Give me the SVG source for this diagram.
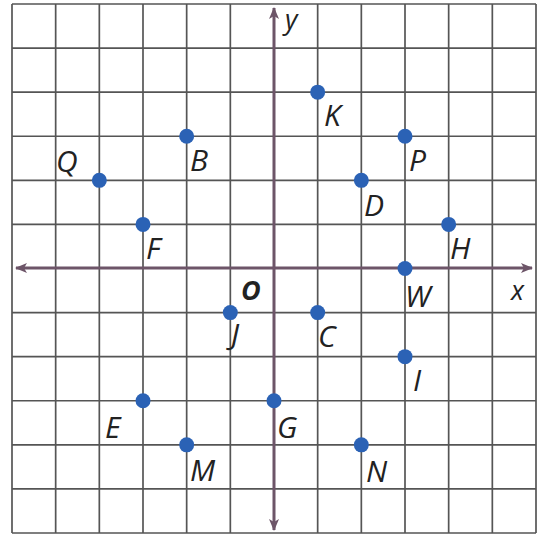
<svg xmlns="http://www.w3.org/2000/svg" width="543" height="536" viewBox="0 0 543 536">
<style>
.grid line{stroke:#555;stroke-width:1.7}
.axis{stroke:#6d5568;stroke-width:3}
.pt{fill:#2b62b5}
.lbl{font-family:"Open Sans","Liberation Sans",sans-serif;font-style:italic;font-size:30px;fill:#222}
.ax{font-family:"Open Sans","Liberation Sans",sans-serif;font-style:italic;font-size:27px;fill:#222}
</style>
<defs>
<marker id="arr" viewBox="0 0 12 10" refX="11" refY="5" markerWidth="12" markerHeight="10" markerUnits="userSpaceOnUse" orient="auto-start-reverse">
<path d="M0,0 L12,5 L0,10 L3,5 Z" fill="#6d5568"/>
</marker>
</defs>
<rect width="543" height="536" fill="#fff"/>
<g id="grid" class="grid">
<line x1="12" y1="4" x2="12" y2="533"/>
<line x1="55.67" y1="4" x2="55.67" y2="533"/>
<line x1="99.33" y1="4" x2="99.33" y2="533"/>
<line x1="143" y1="4" x2="143" y2="533"/>
<line x1="186.67" y1="4" x2="186.67" y2="533"/>
<line x1="230.33" y1="4" x2="230.33" y2="533"/>
<line x1="317.67" y1="4" x2="317.67" y2="533"/>
<line x1="361.33" y1="4" x2="361.33" y2="533"/>
<line x1="405" y1="4" x2="405" y2="533"/>
<line x1="448.67" y1="4" x2="448.67" y2="533"/>
<line x1="492.33" y1="4" x2="492.33" y2="533"/>
<line x1="536" y1="4" x2="536" y2="533"/>
<line x1="12" y1="4" x2="536" y2="4"/>
<line x1="12" y1="48.08" x2="536" y2="48.08"/>
<line x1="12" y1="92.17" x2="536" y2="92.17"/>
<line x1="12" y1="136.25" x2="536" y2="136.25"/>
<line x1="12" y1="180.33" x2="536" y2="180.33"/>
<line x1="12" y1="224.42" x2="536" y2="224.42"/>
<line x1="12" y1="312.58" x2="536" y2="312.58"/>
<line x1="12" y1="356.67" x2="536" y2="356.67"/>
<line x1="12" y1="400.75" x2="536" y2="400.75"/>
<line x1="12" y1="444.83" x2="536" y2="444.83"/>
<line x1="12" y1="488.92" x2="536" y2="488.92"/>
<line x1="12" y1="533" x2="536" y2="533"/>
</g>
<g id="axes">
<line class="axis" x1="16" y1="268" x2="532" y2="268" marker-start="url(#arr)" marker-end="url(#arr)"/>
<line class="axis" x1="274" y1="8" x2="274" y2="530" marker-start="url(#arr)" marker-end="url(#arr)"/>
<text class="ax" x="511" y="300">x</text>
<text class="ax" x="285" y="29">y</text>
<text x="241" y="300" font-family="'Open Sans','Liberation Sans',sans-serif" font-weight="bold" font-style="italic" font-size="27" fill="#222">O</text>
</g>
<g id="K"><circle class="pt" cx="317.67" cy="92.17" r="7.5"/><text class="lbl" x="324" y="126">K</text></g>
<g id="B"><circle class="pt" cx="186.67" cy="136.25" r="7.5"/><text class="lbl" x="190" y="171">B</text></g>
<g id="P"><circle class="pt" cx="405" cy="136.25" r="7.5"/><text class="lbl" x="409" y="171">P</text></g>
<g id="Q"><circle class="pt" cx="99.33" cy="180.33" r="7.5"/><text class="lbl" x="56" y="172">Q</text></g>
<g id="D"><circle class="pt" cx="361.33" cy="180.33" r="7.5"/><text class="lbl" x="364" y="216">D</text></g>
<g id="F"><circle class="pt" cx="143" cy="224.42" r="7.5"/><text class="lbl" x="146" y="259">F</text></g>
<g id="H"><circle class="pt" cx="448.67" cy="224.42" r="7.5"/><text class="lbl" x="450" y="259">H</text></g>
<g id="W"><circle class="pt" cx="405" cy="268.5" r="7.5"/><text class="lbl" x="405" y="307">W</text></g>
<g id="J"><circle class="pt" cx="230.33" cy="312.58" r="7.5"/><text class="lbl" x="231" y="345">J</text></g>
<g id="C"><circle class="pt" cx="317.67" cy="312.58" r="7.5"/><text class="lbl" x="318" y="347">C</text></g>
<g id="I"><circle class="pt" cx="405" cy="356.67" r="7.5"/><text class="lbl" x="413" y="391">I</text></g>
<g id="E"><circle class="pt" cx="143" cy="400.75" r="7.5"/><text class="lbl" x="105" y="438">E</text></g>
<g id="G"><circle class="pt" cx="274" cy="400.75" r="7.5"/><text class="lbl" x="277" y="438">G</text></g>
<g id="M"><circle class="pt" cx="186.67" cy="444.83" r="7.5"/><text class="lbl" x="190" y="481">M</text></g>
<g id="N"><circle class="pt" cx="361.33" cy="444.83" r="7.5"/><text class="lbl" x="366" y="482">N</text></g>
</svg>
